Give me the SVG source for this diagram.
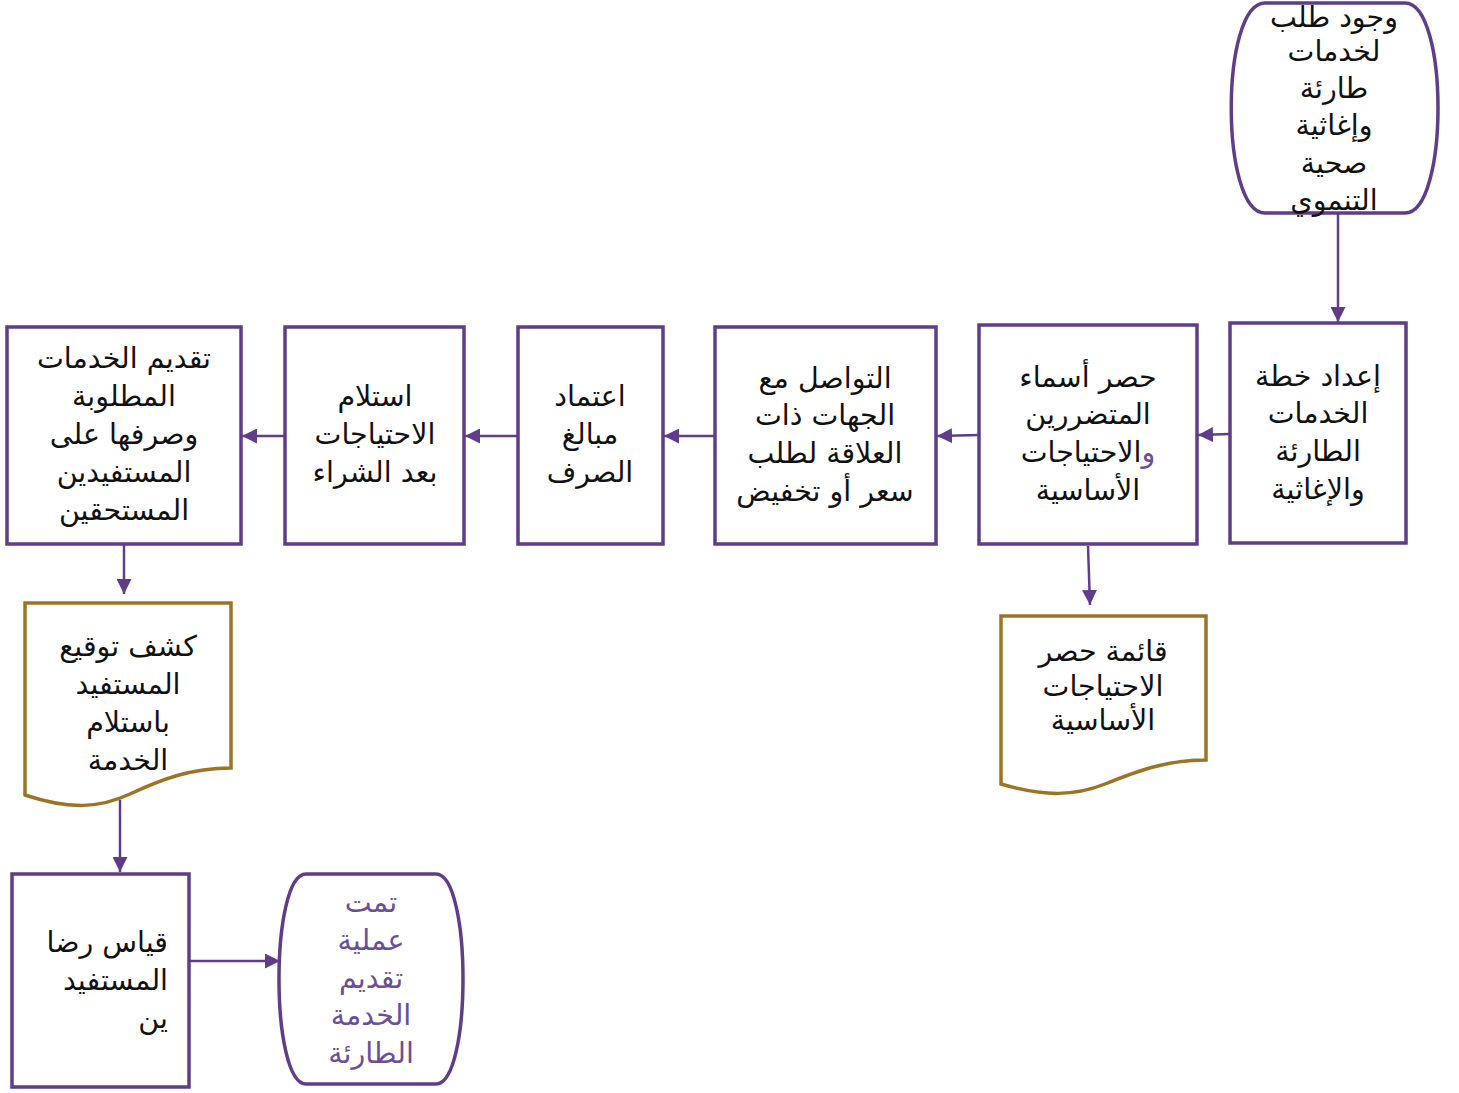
<svg xmlns="http://www.w3.org/2000/svg" width="1459" height="1093" viewBox="0 0 1459 1093">
<defs>
<marker id="arr" viewBox="0 0 10 10" refX="10" refY="5" markerWidth="6" markerHeight="6" orient="auto" markerUnits="strokeWidth">
<path d="M0,0 L10,5 L0,10 Z" fill="#5f3d88"/>
</marker>
<style>
.box{fill:#fff;stroke:#5f3d88;stroke-width:3.5}
.doc{fill:#fff;stroke:#9c7425;stroke-width:3.5}
.t{font-family:"DejaVu Sans","Noto Sans",sans-serif;font-size:28.5px;fill:#111;text-anchor:middle}
.tp{fill:#6b4e98}
.c{fill:none;stroke:#5f3d88;stroke-width:2.5;marker-end:url(#arr)}
</style>
</defs>
<rect width="1459" height="1093" fill="#fff"/>
<g id="connectors">
<path class="c" d="M1338,214 L1338,322"/>
<path class="c" d="M1230,434 L1198,435"/>
<path class="c" d="M979,435 L937,436"/>
<path class="c" d="M715,436 L664,436"/>
<path class="c" d="M518,436 L465,436"/>
<path class="c" d="M285,436 L242,436"/>
<path class="c" d="M124,545 L124,594"/>
<path class="c" d="M1088,546 L1090,605"/>
<path class="c" d="M120,800 L120,872"/>
<path class="c" d="M190,961 L280,961"/>
</g>
<g id="start">
<path class="box" d="M1265,3 L1405,3 C1449,3 1449,213 1405,213 L1265,213 C1220,213 1220,3 1265,3 Z"/>
<text class="t" x="1334" y="27">وجود طلب</text>
<text class="t" x="1334" y="61">لخدمات</text>
<text class="t" x="1334" y="98">طارئة</text>
<text class="t" x="1334" y="135">وإغاثية</text>
<text class="t" x="1334" y="173">صحية</text>
<text class="t" x="1334" y="210">التنموي</text>
</g>
<g id="n1">
<rect class="box" x="1230" y="323" width="176" height="220"/>
<text class="t" x="1318" y="386">إعداد خطة</text>
<text class="t" x="1318" y="423">الخدمات</text>
<text class="t" x="1318" y="461">الطارئة</text>
<text class="t" x="1318" y="499">والإغاثية</text>
</g>
<g id="n2">
<rect class="box" x="979" y="325" width="218" height="219"/>
<text class="t" x="1088" y="387">حصر أسماء</text>
<text class="t" x="1088" y="424">المتضررين</text>
<text class="t" x="1088" y="462"><tspan class="tp">و</tspan>الاحتياجات</text>
<text class="t" x="1088" y="500">الأساسية</text>
</g>
<g id="n3">
<rect class="box" x="715" y="327" width="221" height="217"/>
<text class="t" x="825" y="388">التواصل مع</text>
<text class="t" x="825" y="425">الجهات ذات</text>
<text class="t" x="825" y="463">العلاقة لطلب</text>
<text class="t" x="825" y="501">سعر أو تخفيض</text>
</g>
<g id="n4">
<rect class="box" x="518" y="327" width="145" height="217"/>
<text class="t" x="590" y="406">اعتماد</text>
<text class="t" x="590" y="444">مبالغ</text>
<text class="t" x="590" y="482">الصرف</text>
</g>
<g id="n5">
<rect class="box" x="285" y="327" width="179" height="217"/>
<text class="t" x="375" y="406">استلام</text>
<text class="t" x="375" y="444">الاحتياجات</text>
<text class="t" x="375" y="482">بعد الشراء</text>
</g>
<g id="n6">
<rect class="box" x="7" y="327" width="234" height="217"/>
<text class="t" x="124" y="368">تقديم الخدمات</text>
<text class="t" x="124" y="406">المطلوبة</text>
<text class="t" x="124" y="444">وصرفها على</text>
<text class="t" x="124" y="482">المستفيدين</text>
<text class="t" x="124" y="520">المستحقين</text>
</g>
<g id="doc1">
<path class="doc" d="M25,603 L231,603 L231,768 C190,768 160,780 130,794 C100,808 70,810 25,795 Z"/>
<text class="t" x="128" y="656">كشف توقيع</text>
<text class="t" x="128" y="694">المستفيد</text>
<text class="t" x="128" y="732">باستلام</text>
<text class="t" x="128" y="770">الخدمة</text>
</g>
<g id="doc2">
<path class="doc" d="M1001,616 L1206,616 L1206,760 C1165,760 1135,772 1105,784 C1075,796 1045,797 1001,784 Z"/>
<text class="t" x="1103" y="661">قائمة حصر</text>
<text class="t" x="1103" y="696">الاحتياجات</text>
<text class="t" x="1103" y="730">الأساسية</text>
</g>
<g id="n7">
<rect class="box" x="12" y="874" width="177" height="213"/>
<text class="t" x="168" y="952" style="text-anchor:end">قياس رضا</text>
<text class="t" x="168" y="990" style="text-anchor:end">المستفيد</text>
<text class="t" x="168" y="1028" style="text-anchor:end">ين</text>
</g>
<g id="end">
<path class="box" d="M306,874 L436,874 C472,874 472,1084 436,1084 L306,1084 C270,1084 270,874 306,874 Z"/>
<text class="t tp" x="371" y="912">تمت</text>
<text class="t tp" x="371" y="950">عملية</text>
<text class="t tp" x="371" y="988">تقديم</text>
<text class="t tp" x="371" y="1025">الخدمة</text>
<text class="t tp" x="371" y="1063">الطارئة</text>
</g>
</svg>
